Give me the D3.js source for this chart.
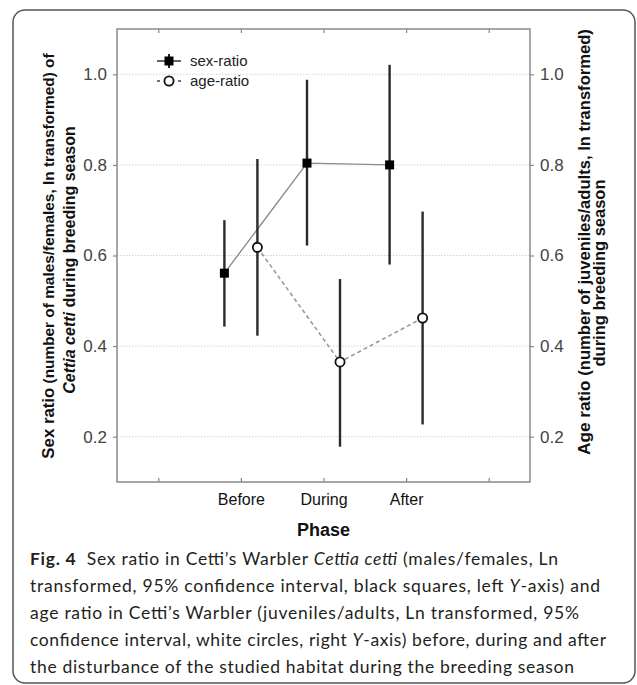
<!DOCTYPE html>
<html>
<head>
<meta charset="utf-8">
<script src="https://cdn.jsdelivr.net/npm/d3@7"></script>
<style>
  body { margin: 0; background: #fff; }
  svg text { font-family: "Liberation Sans", Arial, sans-serif; }
  .caption text { font-family: Lato, "Open Sans", sans-serif; fill: #231f20; }
</style>
</head>
<body>
<script>

// data
var slots = ['s0', 'Before', 'During', 'After', 's4']   // first/last slots only carry a tick
var phases = ['Before', 'During', 'After']

var sexMean = [0.561, 0.804, 0.800]
var sexLow  = [0.443, 0.622, 0.580]
var sexHigh = [0.678, 0.988, 1.021]

var ageMean = [0.618, 0.365, 0.462]
var ageLow  = [0.423, 0.178, 0.227]
var ageHigh = [0.813, 0.548, 0.697]

var yTicks = [0.2, 0.4, 0.6, 0.8, 1.0]

var captionLines = [
  [{t: 'Fig. 4', b: 1}, {t: '  Sex ratio in Cetti\u2019s Warbler '}, {t: 'Cettia cetti', i: 1}, {t: ' (males/females, Ln'}],
  [{t: 'transformed, 95% confidence interval, black squares, left '}, {t: 'Y', i: 1}, {t: '-axis) and'}],
  [{t: 'age ratio in Cetti\u2019s Warbler (juveniles/adults, Ln transformed, 95%'}],
  [{t: 'confidence interval, white circles, right '}, {t: 'Y', i: 1}, {t: '-axis) before, during and after'}],
  [{t: 'the disturbance of the studied habitat during the breeding season'}]
]
var captionWidths = [528, 570, 549, 576, 544]

var W = 637, H = 685
var plot = {left: 117, right: 530, top: 29, bottom: 482}

var svg = d3.select('body').append('svg').attr('width', W).attr('height', H)

// card border
svg.append('rect').attr('x', 13).attr('y', 10).attr('width', 622).attr('height', 673)
  .attr('rx', 12).attr('fill', 'none').attr('stroke', '#555').attr('stroke-width', 1.5)

var x = d3.scalePoint().domain(slots).range([plot.left, plot.right]).padding(0.5)
var y = d3.scaleLinear().domain([0.1, 1.1]).range([plot.bottom, plot.top])
var off = 16.5

// grid
svg.append('g').selectAll('line').data(yTicks).enter().append('line')
  .attr('x1', plot.left).attr('x2', plot.right)
  .attr('y1', function(d) { return y(d) }).attr('y2', function(d) { return y(d) })
  .attr('stroke', '#d4d4d4').attr('stroke-width', 1).attr('stroke-dasharray', '1.5,1.5')

// axes
var fmt = d3.format('.1f')
var gl = svg.append('g').attr('transform', 'translate(' + plot.left + ',0)')
  .call(d3.axisLeft(y).tickValues(yTicks).tickFormat(fmt).tickSize(4).tickPadding(6))
var gr = svg.append('g').attr('transform', 'translate(' + plot.right + ',0)')
  .call(d3.axisRight(y).tickValues(yTicks).tickFormat(fmt).tickSize(4).tickPadding(6))
var xfmt = function(d) { return phases.indexOf(d) >= 0 ? d : '' }
var gb = svg.append('g').attr('transform', 'translate(0,' + plot.bottom + ')')
  .call(d3.axisBottom(x).tickFormat(xfmt).tickSize(-4).tickPadding(12))
var gt = svg.append('g').attr('transform', 'translate(0,' + plot.top + ')')
  .call(d3.axisTop(x).tickFormat('').tickSize(-4))

;[gl, gr, gb, gt].forEach(function(g) {
  g.select('.domain').remove()
  g.attr('font-size', 17).attr('font-family', null)
  g.selectAll('.tick line').attr('stroke', '#888').attr('stroke-width', 1.2)
  g.selectAll('.tick text').attr('fill', '#444')
})
gb.attr('font-size', 16)
gb.selectAll('.tick text').attr('fill', '#111')

// frame
svg.append('rect').attr('x', plot.left).attr('y', plot.top)
  .attr('width', plot.right - plot.left).attr('height', plot.bottom - plot.top)
  .attr('fill', 'none').attr('stroke', '#8a8a8a').attr('stroke-width', 1.5)

// connecting lines
var sexLine = d3.line().x(function(d, i) { return x(phases[i]) - off }).y(function(d) { return y(d) })
var ageLine = d3.line().x(function(d, i) { return x(phases[i]) + off }).y(function(d) { return y(d) })

svg.append('path').attr('d', sexLine(sexMean)).attr('fill', 'none')
  .attr('stroke', '#8c8c8c').attr('stroke-width', 1.4)
svg.append('path').attr('d', ageLine(ageMean)).attr('fill', 'none')
  .attr('stroke', '#999').attr('stroke-width', 1.6).attr('stroke-dasharray', '4,3')

// error bars
function bars(low, high, dx) {
  svg.append('g').selectAll('line').data(phases).enter().append('line')
    .attr('x1', function(d) { return x(d) + dx }).attr('x2', function(d) { return x(d) + dx })
    .attr('y1', function(d, i) { return y(low[i]) }).attr('y2', function(d, i) { return y(high[i]) })
    .attr('stroke', '#2a2a2a').attr('stroke-width', 2.4)
}
bars(sexLow, sexHigh, -off)
bars(ageLow, ageHigh, off)

// markers
svg.append('g').selectAll('rect').data(sexMean).enter().append('rect')
  .attr('x', function(d, i) { return x(phases[i]) - off - 4.5 })
  .attr('y', function(d) { return y(d) - 4.5 })
  .attr('width', 9).attr('height', 9).attr('fill', '#000')
svg.append('g').selectAll('circle').data(ageMean).enter().append('circle')
  .attr('cx', function(d, i) { return x(phases[i]) + off })
  .attr('cy', function(d) { return y(d) })
  .attr('r', 4.6).attr('fill', '#fff').attr('stroke', '#111').attr('stroke-width', 1.8)

// legend
var lg = svg.append('g')
lg.append('line').attr('x1', 157).attr('x2', 181).attr('y1', 61).attr('y2', 61).attr('stroke', '#222').attr('stroke-width', 1.4)
lg.append('line').attr('x1', 169).attr('x2', 169).attr('y1', 54).attr('y2', 68).attr('stroke', '#222').attr('stroke-width', 2)
lg.append('rect').attr('x', 164.5).attr('y', 56.5).attr('width', 9).attr('height', 9).attr('fill', '#000')
lg.append('line').attr('x1', 157).attr('x2', 181).attr('y1', 81).attr('y2', 81).attr('stroke', '#444')
  .attr('stroke-width', 1.4).attr('stroke-dasharray', '3,4').attr('stroke-dashoffset', 0)
lg.append('circle').attr('cx', 169).attr('cy', 81).attr('r', 4.6).attr('fill', '#fff').attr('stroke', '#111').attr('stroke-width', 1.8)
lg.append('text').attr('x', 190).attr('y', 66).text('sex-ratio').style('font-size', '15px').attr('fill', '#222')
lg.append('text').attr('x', 190).attr('y', 86).text('age-ratio').style('font-size', '15px').attr('fill', '#222')

// axis titles
function title(xpos, ypos, parts, size) {
  var t = svg.append('text').attr('transform', 'translate(' + xpos + ',' + ypos + ') rotate(-90)')
    .attr('text-anchor', 'middle').style('font-weight', 'bold').style('font-size', size + 'px').attr('fill', '#111')
  parts.forEach(function(p) {
    t.append('tspan').text(p.t).style('font-style', p.i ? 'italic' : 'normal')
      .style('font-size', p.s ? p.s + 'px' : null)
  })
}
title(54, 256, [{t: 'Sex ratio', s: 16.8}, {t: ' (number of males/females, ln transformed) of'}], 15.4)
title(75, 260, [{t: 'Cettia cetti', i: 1}, {t: '  during breeding season'}], 16)
title(590, 242, [{t: 'Age ratio', s: 17.2}, {t: ' (number of juveniles/adults, ln transformed)'}], 16.6)
title(605, 273, [{t: 'during breeding season'}], 16.5)

svg.append('text').attr('x', x('During')).attr('y', 536).attr('text-anchor', 'middle')
  .style('font-weight', 'bold').style('font-size', '18px').attr('fill', '#111').text('Phase')

// caption
var cap = svg.append('g').attr('class', 'caption')
captionLines.forEach(function(line, k) {
  var t = cap.append('text').attr('x', 30).attr('y', 565 + k * 27)
    .style('font-size', '17.5px')
    .attr('textLength', captionWidths[k]).attr('lengthAdjust', 'spacing')
  line.forEach(function(p) {
    t.append('tspan').text(p.t)
      .style('font-weight', p.b ? 'bold' : 'normal')
      .style('font-style', p.i ? 'italic' : 'normal')
      .attr('xml:space', 'preserve')
  })
})

</script>
</body>
</html>
